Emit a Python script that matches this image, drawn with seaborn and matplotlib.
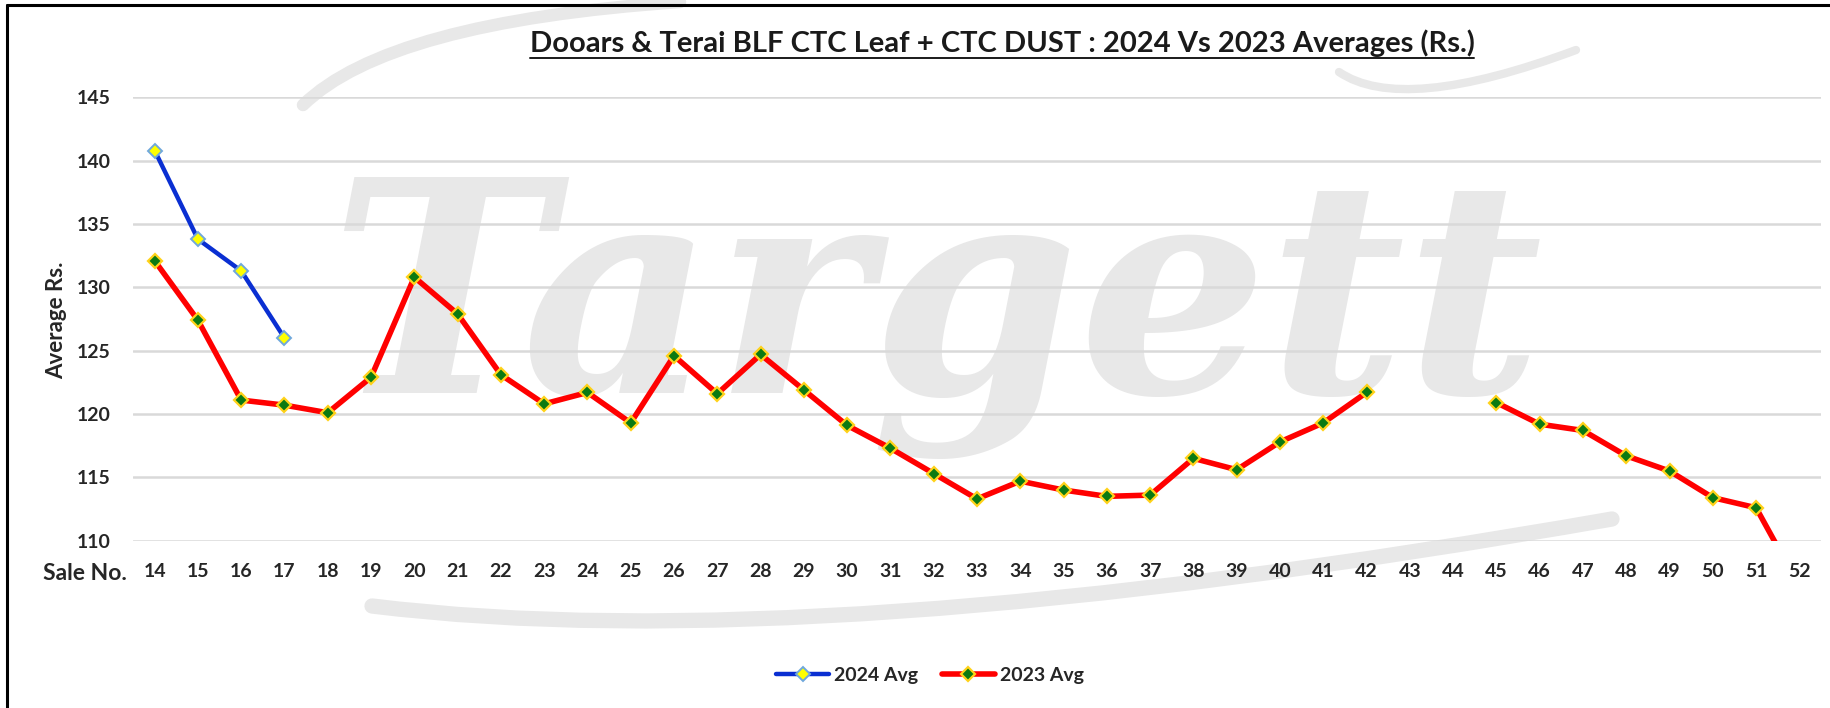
import numpy as np
import pandas as pd
import matplotlib
matplotlib.use("Agg")
import matplotlib.pyplot as plt
import seaborn as sns
from matplotlib.lines import Line2D
from matplotlib.path import Path
from matplotlib.patches import PathPatch

nan = np.nan

# Sale numbers on the x axis
sale_no = list(range(14, 53))

# Average price (Rs.) per sale
avg_2024 = [140.8, 133.8, 131.3, 126.0] + [nan] * 35
avg_2023 = [132.1, 127.4, 121.1, 120.7, 120.1, 122.9, 130.8, 127.9, 123.1, 120.8,
            121.7, 119.3, 124.6, 121.6, 124.7, 121.9, 119.1, 117.3, 115.3, 113.3,
            114.7, 114.0, 113.5, 113.6, 116.5, 115.6, 117.8, 119.3, 121.7, nan,
            nan, 120.9, 119.2, 118.7, 116.7, 115.5, 113.4, 112.6, 106.4]

y_ticks = [110, 115, 120, 125, 130, 135, 140, 145]
series_names = ["2024 Avg", "2023 Avg"]

title = "Dooars & Terai BLF CTC Leaf + CTC DUST : 2024 Vs 2023 Averages (Rs.)"

sns.set_theme(style="white")
plt.rcParams["font.family"] = ["Lato", "DejaVu Sans"]

W, H, DPI = 1830, 708, 100
fig = plt.figure(figsize=(W / DPI, H / DPI), dpi=DPI)
fig.patch.set_facecolor("white")


def fx(px):
    return px / W


def fy(py):
    return 1 - py / H


ax = fig.add_axes([fx(133), fy(540.7), (1821 - 133) / W, (540.7 - 97.3) / H])
ax.set_facecolor("none")
ax.set_zorder(2)


def segments(values):
    """Long-form frame; consecutive non-missing runs get their own unit id."""
    vals = np.asarray(values, dtype=float)
    seg = np.cumsum(np.isnan(vals))
    df = pd.DataFrame({"pos": np.arange(len(vals)), "val": vals, "seg": seg})
    return df.dropna()


d23 = segments(avg_2023)
d24 = segments(avg_2024)

red, green, yellow = "#ff0000", "#0b7a12", "#ffd21a"
blue, pale_blue = "#0a2fd2", "#6fa8dc"
style23 = dict(color=red, linewidth=4.0, marker="D", markersize=7.5,
               markerfacecolor=green, markeredgecolor=yellow, markeredgewidth=1.6)
style24 = dict(color=blue, linewidth=3.2, marker="D", markersize=7.5,
               markerfacecolor="#ffff00", markeredgecolor=pale_blue, markeredgewidth=1.4)

sns.lineplot(data=d23, x="pos", y="val", units="seg", estimator=None, sort=False,
             ax=ax, legend=False, zorder=4, **style23)
sns.lineplot(data=d24, x="pos", y="val", units="seg", estimator=None, sort=False,
             ax=ax, legend=False, zorder=5, **style24)

ax.set_xlim(-0.5, len(sale_no) - 0.5)
ax.set_ylim(110, 145)
ax.set_xticks(range(len(sale_no)))
ax.set_xticklabels([str(s) for s in sale_no])
ax.set_yticks(y_ticks)
ax.set_yticklabels([str(t) for t in y_ticks])
ax.tick_params(axis="both", length=0, labelsize=14, colors="#262626")
ax.tick_params(axis="x", pad=16)
ax.tick_params(axis="y", pad=16)
for lab in ax.get_xticklabels() + ax.get_yticklabels():
    lab.set_fontweight("bold")
ax.set_xlabel("")
ax.set_ylabel("")
for sp in ax.spines.values():
    sp.set_visible(False)
ax.yaxis.grid(True, color="#d9d9d9", linewidth=1.8, zorder=0)
ax.xaxis.grid(False)
ax.set_axisbelow(True)

# Axis captions
fig.text(fx(85), fy(574), "Sale No.", ha="center", va="center",
         fontsize=16.5, fontweight="bold", color="#262626")
fig.text(fx(57), fy(320), "Average Rs.", ha="center", va="center",
         rotation=90, fontsize=16, fontweight="bold", color="#262626")

# Faint watermark and swooshes behind the plot
wm = "#e8e8e8"
fig.text(fx(936), fy(393), "Targett", ha="center", va="baseline",
         fontsize=214, fontstyle="italic", fontweight="bold",
         family=["DejaVu Serif"], color=wm, zorder=0)


def swoosh(points, lw):
    pts = [(fx(x), fy(y)) for x, y in points]
    codes = [Path.MOVETO] + [Path.CURVE3] * (len(pts) - 1)
    fig.add_artist(PathPatch(Path(pts, codes), transform=fig.transFigure,
                             facecolor="none", edgecolor=wm, linewidth=lw,
                             capstyle="round", zorder=0))


swoosh([(303, 105), (388, 22), (680, 2)], 9)
swoosh([(1339, 72), (1402, 115), (1576, 50)], 6)
swoosh([(372, 606), (808, 660), (1612, 519)], 11)

# Title, width-fitted, with underline
t = fig.text(fx(1002), fy(43), title, ha="center", va="center",
             fontsize=20, fontweight="bold", color="#1a1a1a", zorder=3)
fig.canvas.draw()
r = fig.canvas.get_renderer()
bb = t.get_window_extent(r)
t.set_fontsize(20 * 943 / bb.width)
bb = t.get_window_extent(r)
uy = (bb.y0 - 1) / H
fig.add_artist(Line2D([bb.x0 / W, bb.x1 / W], [uy, uy],
                      transform=fig.transFigure, color="#1a1a1a", linewidth=1.4))

# Legend
handles = [Line2D([], [], **style24), Line2D([], [], **style23)]
fig.legend(handles, series_names, loc="center", bbox_to_anchor=(fx(930), fy(675)),
           ncol=2, frameon=False, handlelength=2.7, handletextpad=0.25,
           columnspacing=1.25, prop={"weight": "bold", "size": 14})

# Frame lines along the top and left edges
fig.add_artist(Line2D([fx(7), 1], [fy(5), fy(5)], transform=fig.transFigure,
                      color="black", linewidth=2.2, zorder=3))
fig.add_artist(Line2D([fx(7), fx(7)], [0, fy(5)], transform=fig.transFigure,
                      color="black", linewidth=2.2, zorder=3))

fig.savefig("out.png", dpi=DPI, facecolor="white")
